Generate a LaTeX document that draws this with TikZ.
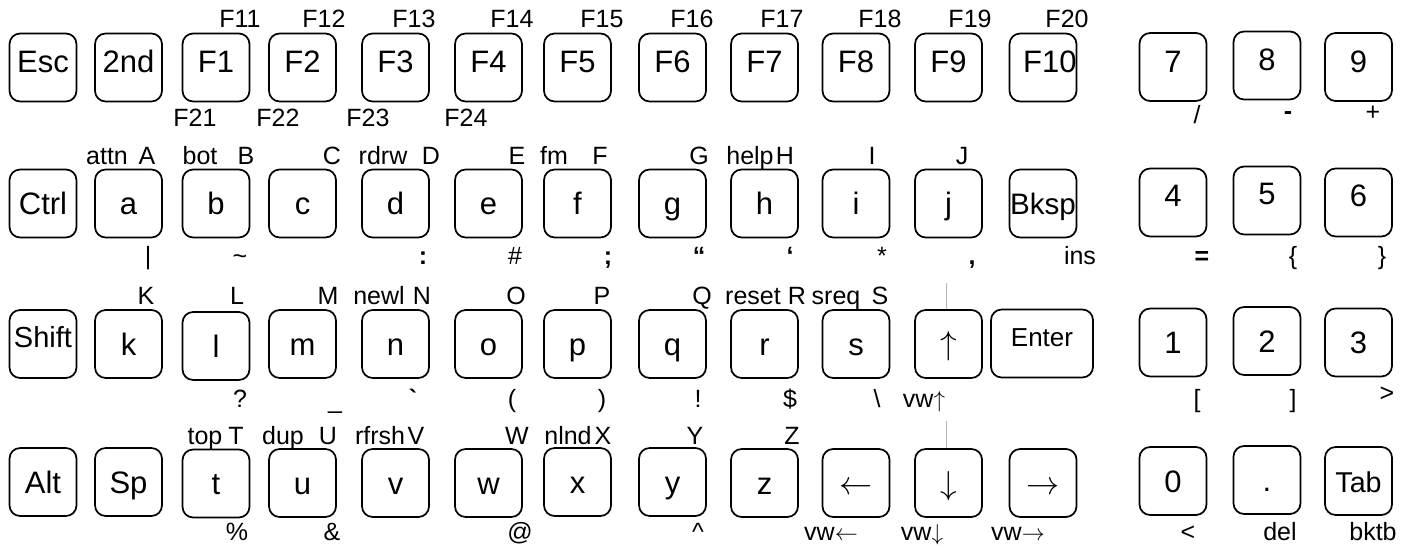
\documentclass[tikz,border=0pt]{standalone}
\usepackage{fontspec}
\setmainfont{Liberation Sans}
\newfontfamily\rawfont{Liberation Sans}[Ligatures=TeXOff]
\tikzset{
  keybox/.style={draw, line width=1.3pt, rounded corners=8pt,
    minimum width=50.25pt, minimum height=51pt, inner sep=0pt,
    font=\fontsize{23.25pt}{25pt}\selectfont, text height=16.65pt, text depth=0pt},
  rowone/.style={text height=7.65pt},
  upshift/.style={text height=4.65pt},
  digshift/.style={text height=6.15pt},
  arrowkey/.style={text height=16.5pt},
  lab/.style={anchor=base, inner sep=0pt, font=\fontsize{18.75pt}{20pt}\selectfont},
  tick/.style={draw=gray!60, line width=0.4pt}
}
\newcommand\mykey[5][]{\node[keybox,#1] (#2) at (#3,#4) {#5};}
\newcommand\mylab[5][]{\node[lab,#1] (#2) at (#3,#4) {#5};}
\begin{document}
\begin{tikzpicture}[x=0.75pt,y=-0.75pt]
\useasboundingbox (0,0) rectangle (1416,548);
% ---------- row 1
\mykey[rowone]{esc}{43}{67.5}{Esc}
\mykey[rowone]{snd}{128.5}{67.5}{2nd}
\mykey[rowone]{f1}{216}{67.5}{F1}
\mykey[rowone]{f2}{302.5}{67.5}{F2}
\mykey[rowone]{f3}{395.5}{67.5}{F3}
\mykey[rowone]{f4}{488.5}{67.5}{F4}
\mykey[rowone]{f5}{577.5}{67.5}{F5}
\mykey[rowone]{f6}{672.5}{67.5}{F6}
\mykey[rowone]{f7}{764.5}{67.5}{F7}
\mykey[rowone]{f8}{856}{67.5}{F8}
\mykey[rowone]{f9}{948.5}{67.5}{F9}
\mykey[rowone,text width=50.25pt,align=right]{f10}{1043}{67.5}{F10}
\mykey[rowone]{n7}{1173}{67}{7}
\mykey[rowone]{n8}{1267}{65.5}{8}
\mykey[rowone]{n9}{1358.5}{67}{9}
% ---------- row 2
\mykey{ctrl}{43}{203.5}{Ctrl}
\mykey{ka}{128.5}{203.5}{a}
\mykey{kb}{216}{203.5}{b}
\mykey{kc}{302.5}{203.5}{c}
\mykey{kd}{395.5}{203.5}{d}
\mykey{ke}{488.5}{203.5}{e}
\mykey{kf}{577.5}{203.5}{f}
\mykey{kg}{672.5}{203.5}{g}
\mykey{kh}{764.5}{203.5}{h}
\mykey{ki}{856}{203.5}{i}
\mykey{kj}{948.5}{203.5}{j}
\mykey[font=\fontsize{22.2pt}{24pt}\selectfont]{bksp}{1043}{203.5}{Bksp}
\mykey[digshift]{n4}{1173}{202.5}{4}
\mykey[digshift]{n5}{1267}{200.5}{5}
\mykey[digshift]{n6}{1358.5}{202.5}{6}
% ---------- row 3
\mykey[upshift,font=\fontsize{21.75pt}{24pt}\selectfont]{shift}{43}{344}{Shift}
\mykey{kk}{128.5}{344}{k}
\mykey{kl}{216}{346}{l}
\mykey{km}{302.5}{344}{m}
\mykey{kn}{395.5}{344}{n}
\mykey{ko}{488.5}{344}{o}
\mykey{kp}{577.5}{344}{p}
\mykey{kq}{672.5}{344}{q}
\mykey{kr}{764.5}{344}{r}
\mykey{ks}{856}{344}{s}
\mykey[arrowkey]{up}{948.5}{344}{$\uparrow$}
\mykey[upshift,minimum width=76.5pt,font=\fontsize{19.5pt}{21pt}\selectfont]{enter}{1042}{343.5}{Enter}
\mykey{n1}{1173}{342.5}{1}
\mykey{n2}{1267}{341}{2}
\mykey{n3}{1358.5}{342.5}{3}
% ---------- row 4
\mykey{alt}{43}{482}{Alt}
\mykey{sp}{128.5}{482}{Sp}
\mykey{kt}{216}{483.5}{t}
\mykey{ku}{302.5}{483}{u}
\mykey{kv}{395.5}{483}{v}
\mykey{kw}{488.5}{483}{w}
\mykey{kx}{577.5}{482}{x}
\mykey{ky}{672.5}{482}{y}
\mykey{kz}{764.5}{483}{z}
\mykey[arrowkey]{left}{856}{483}{$\leftarrow$}
\mykey[arrowkey]{down}{948.5}{483}{$\downarrow$}
\mykey[arrowkey]{right}{1043}{483}{$\rightarrow$}
\mykey{n0}{1173}{481}{0}
\mykey{dot}{1267}{480}{.}
\mykey[font=\fontsize{21.5pt}{23pt}\selectfont]{tab}{1358.5}{481}{Tab}
% ---------- row 1 labels
\mylab{lF11}{240}{28}{F11}
\mylab{lF12}{324}{28}{F12}
\mylab{lF13}{414}{28}{F13}
\mylab{lF14}{512}{28}{F14}
\mylab{lF15}{602}{28}{F15}
\mylab{lF16}{692}{28}{F16}
\mylab{lF17}{782}{28}{F17}
\mylab{lF18}{880}{28}{F18}
\mylab{lF19}{970}{28}{F19}
\mylab{lF20}{1067}{28}{F20}
\mylab{lF21}{195}{127}{F21}
\mylab{lF22}{278}{127}{F22}
\mylab{lF23}{368}{127}{F23}
\mylab{lF24}{466}{127}{F24}
\mylab{lslash}{1197}{124}{/}
\mylab{lminus}{1288}{120}{\bfseries -}
\mylab{lplus}{1373}{121}{+}
% ---------- row 2 labels
\mylab{lattn}{107}{165}{attn}
\mylab{lA}{147}{165}{A}
\mylab{lbot}{200}{165}{bot}
\mylab{lB}{246}{165}{B}
\mylab{lC}{332}{165}{C}
\mylab{lrdrw}{383}{165}{rdrw}
\mylab{lD}{431}{165}{D}
\mylab{lE}{517}{165}{E}
\mylab{lfm}{554}{165}{fm}
\mylab{lF}{600}{165}{F}
\mylab{lG}{699}{165}{G}
\mylab{lhelp}{750}{165}{help}
\mylab{lH}{785}{165}{H}
\mylab{lI}{872}{165}{I}
\mylab{lJ}{962}{165}{J}
\mylab{lbar}{148}{265}{|}
\mylab{ltilde}{240}{265}{\char"007E}
\mylab{lcolon}{423}{265}{\bfseries :}
\mylab{lhash}{515}{265}{\#}
\mylab{lsemi}{608}{265}{\bfseries ;}
\mylab{ldq}{699}{265}{\bfseries “}
\mylab{lsq}{790}{265}{\bfseries ‘}
\mylab{lstar}{882}{265}{*}
\mylab{lcomma}{972}{265}{\bfseries ,}
\mylab{lins}{1080}{265}{ins}
\mylab{leq}{1202}{265}{\bfseries =}
\mylab{llbrace}{1293}{265}{\{}
\mylab{lrbrace}{1382}{265}{\}}
% ---------- row 3 labels
\mylab{lK}{146}{305}{K}
\mylab{lL}{237}{305}{L}
\mylab{lM}{328}{305}{M}
\mylab{lnewl}{379}{305}{newl}
\mylab{lN}{422}{305}{N}
\mylab{lO}{516}{305}{O}
\mylab{lP}{602}{305}{P}
\mylab{lQ}{702}{305}{Q}
\mylab{lreset}{753}{305}{reset}
\mylab{lR}{797}{305}{R}
\mylab{lsreq}{836}{305}{sreq}
\mylab{lS}{880}{305}{S}
\mylab{lquest}{240}{408}{?}
\mylab{lgrave}{413}{408}{\rawfont\bfseries `}
\mylab{lunder}{335}{409}{\_}
\mylab{llpar}{512}{408}{(}
\mylab{lrpar}{602}{408}{)}
\mylab{lexcl}{698}{408}{!}
\mylab{ldollar}{790}{408}{\$}
\mylab{lbslash}{877}{408}{\char"005C}
\mylab{lvwup}{924}{408}{vw$\uparrow$}
\mylab{llbrack}{1197}{408}{[}
\mylab{lrbrack}{1293}{408}{]}
\mylab{lgt}{1387}{402}{>}
% ---------- row 4 labels
\mylab{ltop}{205}{445}{top}
\mylab{lT}{236}{445}{T}
\mylab{ldup}{283}{445}{dup}
\mylab{lU}{328}{445}{U}
\mylab{lrfrsh}{380}{445}{rfrsh}
\mylab{lV}{416}{445}{V}
\mylab{lW}{517}{445}{W}
\mylab{lnlnd}{568}{445}{nlnd}
\mylab{lX}{603}{445}{X}
\mylab{lY}{695}{445}{Y}
\mylab{lZ}{792}{445}{Z}
\mylab{lpct}{237}{540}{\%}
\mylab{lamp}{332}{540}{\&}
\mylab{lat}{520}{540}{@}
\mylab{lcaret}{698}{540}{\char"005E}
\mylab{lvwleft}{831}{540}{vw$\leftarrow$}
\mylab{lvwdown}{922}{540}{vw$\downarrow$}
\mylab{lvwright}{1018}{540}{vw$\rightarrow$}
\mylab{llt}{1188}{540}{<}
\mylab{ldel}{1280}{540}{del}
\mylab{lbktb}{1373}{540}{bktb}
% ---------- faint marks above arrow keys
\coordinate (upmk) at (946,283);
\coordinate (dnmk) at (946,421);
\draw[tick] (upmk) -- (up.north -| upmk);
\draw[tick] (dnmk) -- (down.north -| dnmk);
\end{tikzpicture}
\end{document}
